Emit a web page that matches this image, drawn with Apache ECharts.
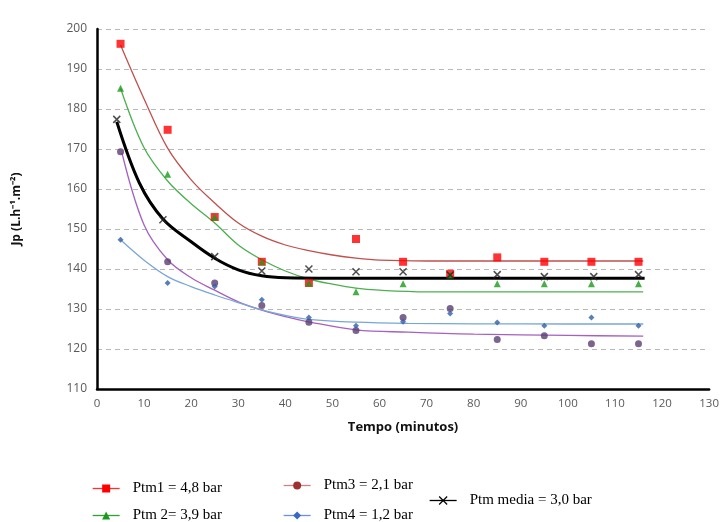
<!DOCTYPE html>
<html>
<head>
<meta charset="utf-8">
<script src="https://cdn.jsdelivr.net/npm/echarts@6/dist/echarts.min.js"></script>
<style>
  html, body { margin: 0; padding: 0; background: #fff; }
  #main { width: 722px; height: 522px; }
</style>
</head>
<body>
<div id="main"></div>
<script>
// pontos medidos
const tempo = [5, 15, 25, 35, 45, 55, 65, 75, 85, 95, 105, 115];
const ptm1 = [196.3, 174.8, 153, 141.8, 136.5, 147.5, 141.8, 138.8, 142.9, 141.8, 141.8, 141.8];
const ptm2 = [185.2, 163.7, 153, 141.8, 136.5, 134.3, 136.3, 138.5, 136.3, 136.3, 136.3, 136.3];
const ptm3 = [169.3, 141.8, 136.5, 130.9, 126.7, 124.6, 127.9, 130.1, 122.4, 123.3, 121.3, 121.3];
const ptm4 = [147.3, 136.5, 135.6, 132.3, 127.9, 125.8, 126.8, 128.9, 126.6, 125.8, 127.9, 125.8];
const tempoMedia = [4.2, 14, 25, 35, 45, 55, 65, 75, 85, 95, 105.5, 115];
const media = [177.4, 152.3, 143.1, 139.5, 140, 139.3, 139.3, 138.5, 138.6, 138.1, 138.1, 138.6];

// linhas de tendencia
const ajX12 = [5, 10, 15, 20, 25, 30, 35, 40, 45, 50, 55, 60, 70, 85, 100, 116];
const aj1 = [196, 182.5, 170.2, 162.3, 156.5, 151.5, 148.2, 146, 144.6, 143.5, 142.7, 142.2, 142, 142, 142, 142];
const aj2 = [185.2, 170.3, 162, 156.3, 151.5, 146, 142.3, 139.5, 137.5, 136.2, 135.2, 134.7, 134.3, 134.3, 134.3, 134.3];
const ajX3 = [5.3, 10, 15, 20, 25, 30, 35, 40, 45, 55, 66, 80, 100, 116];
const aj3 = [169, 151, 142.3, 137.8, 134.7, 131.8, 129.7, 128.1, 126.8, 124.8, 124.2, 123.7, 123.4, 123.2];
const ajX4 = [5, 10, 15, 20, 25, 30, 35, 40, 45, 55, 66, 80, 100, 116];
const aj4 = [147.3, 142.2, 138.1, 135.6, 133.5, 131.6, 129.8, 128.4, 127.4, 126.7, 126.4, 126.3, 126.25, 126.25];
const ajXm = [4.2, 9, 14, 20, 25, 30, 35, 40, 50, 60, 80, 100, 116.3];
const ajm = [176.8, 161.5, 152.5, 146.8, 142.7, 139.8, 138.3, 137.8, 137.7, 137.7, 137.7, 137.7, 137.7];

const nomes = ['Ptm1 = 4,8 bar', 'Ptm 2= 3,9 bar', 'Ptm3 = 2,1 bar', 'Ptm4 = 1,2 bar', 'Ptm media = 3,0 bar'];
const xSymbol = 'path://M0,0L10,10M10,0L0,10';

const pares = (xs, ys) => xs.map((x, i) => [x, ys[i]]);

const myChart = echarts.init(document.getElementById('main'));

function fitLine(name, xs, ys, lineColor, width, symbol, symColor) {
  return {
    name: name,
    type: 'line',
    data: pares(xs, ys),
    showSymbol: false,
    symbol: symbol,
    smooth: 0.35,
    itemStyle: { color: symColor },
    lineStyle: { color: lineColor, width: width },
    z: 2
  };
}

function pontos(name, xs, ys, symbol, size, color) {
  return {
    name: name,
    type: 'scatter',
    data: pares(xs, ys),
    symbol: symbol,
    symbolSize: size,
    itemStyle: { color: color },
    z: 3
  };
}

function legenda(nome, left, top, lineColor, symColor, extra) {
  return {
    data: [nome],
    left: left,
    top: top,
    orient: 'horizontal',
    itemWidth: 27,
    itemHeight: 10,
    selectedMode: false,
    padding: 0,
    lineStyle: { color: lineColor, width: 1.3 },
    itemStyle: Object.assign({ color: symColor }, extra || {}),
    textStyle: { fontFamily: 'Liberation Serif', fontSize: 15, color: '#000', padding: [0, 0, 0, 8] }
  };
}

const option = {
  animation: false,
  backgroundColor: '#fff',
  grid: { left: 97, right: 9, top: 29, bottom: 133 },
  legend: [
    legenda(nomes[0], 92, 481, '#ff3030', '#ff0000'),
    legenda(nomes[1], 92, 508, '#30a030', '#1a9a1a'),
    legenda(nomes[2], 283, 478, '#d08080', '#a03030'),
    legenda(nomes[3], 283, 508, '#6a90e8', '#3a68c0'),
    legenda(nomes[4], 429, 493, '#000', '#000', { borderColor: '#000', borderWidth: 1.2 })
  ],
  xAxis: {
    type: 'value',
    min: 0,
    max: 130,
    interval: 10,
    name: 'Tempo (minutos)',
    nameLocation: 'middle',
    nameGap: 32,
    nameTextStyle: { fontFamily: 'Open Sans', fontWeight: 'bold', fontSize: 13, color: '#111' },
    axisLine: { lineStyle: { color: '#000', width: 2.5 } },
    axisTick: { show: false },
    axisLabel: { color: '#595959', fontSize: 11.5, fontFamily: 'Open Sans', margin: 9 },
    splitLine: { show: false }
  },
  yAxis: {
    type: 'value',
    min: 110,
    max: 200,
    interval: 10,
    name: 'Jp (L.h⁻¹.m⁻²)',
    nameLocation: 'middle',
    nameRotate: 90,
    nameGap: 74,
    nameTextStyle: { fontFamily: 'Open Sans', fontWeight: 'bold', fontSize: 12, color: '#111' },
    axisLine: { show: true, lineStyle: { color: '#000', width: 2.5 } },
    axisTick: { show: false },
    axisLabel: { color: '#595959', fontSize: 12, fontFamily: 'Open Sans', margin: 10 },
    splitLine: { lineStyle: { color: '#b8b8b8', width: 1.2, type: [5, 4] } }
  },
  series: [
    fitLine(nomes[0], ajX12, aj1, '#c0504d', 1.3, 'rect', '#ff0000'),
    fitLine(nomes[1], ajX12, aj2, '#4caf50', 1.3, 'triangle', '#1a9a1a'),
    fitLine(nomes[2], ajX3, aj3, '#a660c0', 1.3, 'circle', '#a03030'),
    fitLine(nomes[3], ajX4, aj4, '#7aa6d6', 1.3, 'diamond', '#3a68c0'),
    fitLine(nomes[4], ajXm, ajm, '#000', 3, xSymbol, '#000'),
    pontos('p1', tempo, ptm1, 'rect', 8, '#ff0000'),
    pontos('p2', tempo, ptm2, 'triangle', 7, '#1a9a1a'),
    pontos('p3', tempo, ptm3, 'circle', 7, '#5a3d70'),
    pontos('p4', tempo, ptm4, 'diamond', 6, '#2f5fa8'),
    {
      name: 'pm',
      type: 'scatter',
      data: pares(tempoMedia, media),
      symbol: xSymbol,
      symbolSize: 7,
      itemStyle: { color: '#000', borderColor: '#222', borderWidth: 1.5 },
      z: 4
    }
  ]
};

option && myChart.setOption(option);
</script>
</body>
</html>
